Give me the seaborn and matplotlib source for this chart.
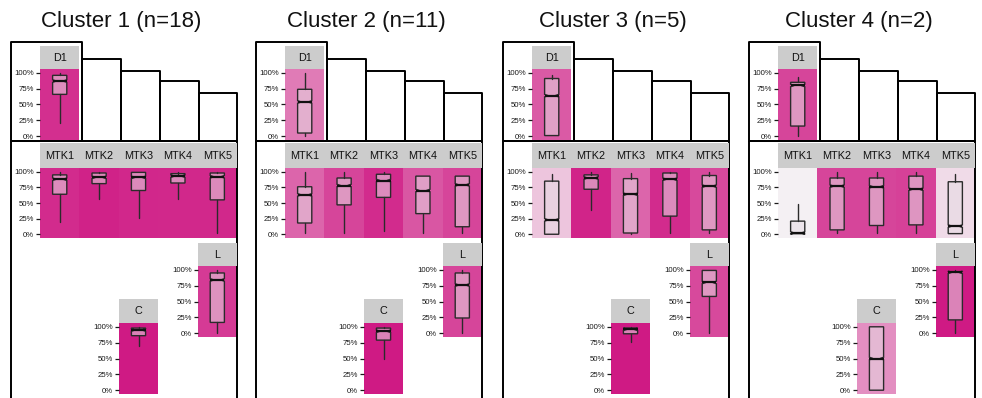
import matplotlib
matplotlib.use("Agg")
import matplotlib.pyplot as plt
from matplotlib.patches import Rectangle
import seaborn as sns

sns.set_theme(style="white")
plt.rcParams["font.family"] = ["Liberation Sans", "DejaVu Sans"]

# ---------------------------------------------------------------- data
cluster_titles = ["Cluster 1 (n=18)", "Cluster 2 (n=11)", "Cluster 3 (n=5)", "Cluster 4 (n=2)"]
panel_names = ["D1", "MTK1", "MTK2", "MTK3", "MTK4", "MTK5", "C", "L"]
tick_values = [0, 25, 50, 75, 100]
tick_labels = ["0%", "25%", "50%", "75%", "100%"]

# box statistics (percent), one row per cluster, panels ordered as panel_names
whisker_low = [
    [21, 20, 57, 26, 57, 2, 69, 0],
    [0, 2, 2, 5, 2, 2, 49, 0],
    [0, 0, 39, 1, 2, 2, 76, 0],
    [0, 0, 2, 2, 2, 0, 0, 0],
]
quart_1 = [
    [66, 64, 81, 70, 82, 55, 86, 17],
    [5, 18, 47, 59, 33, 12, 79, 24],
    [1, 0, 72, 2, 29, 7, 89, 58],
    [16, 1, 7, 14, 15, 1, 0, 21],
]
median = [
    [87, 88, 91, 91, 93, 92, 95, 84],
    [54, 63, 78, 86, 70, 79, 93, 76],
    [64, 23, 90, 64, 88, 77, 96, 80],
    [80, 2, 77, 76, 72, 13, 50, 96],
]
quart_3 = [
    [96, 95, 98, 99, 97, 98, 98, 95],
    [74, 76, 90, 96, 93, 93, 98, 95],
    [91, 85, 95, 89, 98, 94, 98, 99],
    [85, 21, 90, 90, 93, 84, 100, 97],
]
whisker_high = [
    [100, 100, 100, 100, 100, 100, 100, 100],
    [100, 100, 100, 100, 94, 93, 100, 100],
    [97, 97, 100, 98, 100, 100, 100, 100],
    [93, 49, 100, 100, 100, 97, 100, 99],
]
notch_half = 2  # half-height of the median notch, percent

# background shading of each panel (0 = pale, 1 = full magenta)
shade = [
    [0.90, 0.92, 0.96, 0.94, 0.93, 0.93, 1.00, 0.85],
    [0.55, 0.65, 0.80, 0.92, 0.72, 0.80, 1.00, 0.80],
    [0.70, 0.20, 0.95, 0.65, 0.92, 0.78, 1.00, 0.78],
    [0.80, 0.00, 0.80, 0.80, 0.82, 0.10, 0.45, 1.00],
]

# ---------------------------------------------------------------- layout (pixels)
W, H = 982, 398
cluster_left = [11, 256, 503, 749]
COL_X0, COL_W = 29, 39.4
FRAME_W = 226
# name: (first column, number of columns, header top, header bottom, panel bottom)
panel_boxes = {
    "D1": (0, 1, 46, 69, 140),
    "MTK": (0, 5, 143, 168, 238),
    "L": (4, 1, 243, 266, 337),
    "C": (2, 1, 299, 323, 394),
}
step_edges = [71, 110, 149, 188, 226]
step_tops = [59, 71, 81, 93]

cmap = sns.blend_palette(["#f4f0f3", "#cf1a84"], as_cmap=True)
box_face = (0.90, 0.86, 0.89, 0.55)
edge_col = "#2b2b2b"
BOX_W = 0.36

fig = plt.figure(figsize=(W / 100, H / 100), dpi=100)
fig.patch.set_facecolor("white")


def fig_rect(x, y, w, h):
    return [x / W, 1 - (y + h) / H, w / W, h / H]


overlay = fig.add_axes([0, 0, 1, 1], zorder=10)
overlay.set_xlim(0, W)
overlay.set_ylim(H, 0)
overlay.set_axis_off()
overlay.patch.set_visible(False)


def draw_boxes(ax, ci, idxs):
    stats = []
    for k in idxs:
        stats.append(dict(
            whislo=whisker_low[ci][k], q1=quart_1[ci][k], med=median[ci][k],
            q3=quart_3[ci][k], whishi=whisker_high[ci][k],
            cilo=median[ci][k] - notch_half, cihi=median[ci][k] + notch_half,
            fliers=[],
        ))
    pos = [i + 0.5 for i in range(len(idxs))]
    art = ax.bxp(
        stats, positions=pos, widths=BOX_W, shownotches=True, showcaps=False,
        showfliers=False, patch_artist=True, manage_ticks=False,
        boxprops=dict(facecolor=box_face, edgecolor=edge_col, linewidth=1.0),
        medianprops=dict(color="#111111", linewidth=1.6, solid_capstyle="butt"),
        whiskerprops=dict(color=edge_col, linewidth=1.0),
    )
    for p, line in zip(pos, art["medians"]):
        line.set_xdata([p - BOX_W / 2, p + BOX_W / 2])


for ci, left in enumerate(cluster_left):
    # title
    overlay.text(left + 110, 27.5, cluster_titles[ci], fontsize=16,
                 ha="center", va="baseline", color="#111111")

    # frame outlines
    frame_kw = dict(fill=False, edgecolor="black", linewidth=1.4, joinstyle="round")
    overlay.add_patch(Rectangle((left, 42), step_edges[0], 141 - 42, **frame_kw))
    for (x0, x1), top in zip(zip(step_edges[:-1], step_edges[1:]), step_tops):
        overlay.add_patch(Rectangle((left + x0, top), x1 - x0, 141 - top, **frame_kw))
    overlay.add_patch(Rectangle((left, 141), FRAME_W, 300, **frame_kw))

    for name, (c0, ncol, htop, hbot, pbot) in panel_boxes.items():
        x = left + COL_X0 + c0 * COL_W
        w = ncol * COL_W
        # grey header strip with labels
        overlay.add_patch(Rectangle((x, htop), w, hbot - htop,
                                    facecolor="#cccccc", edgecolor="none"))
        labels = panel_names[1:6] if name == "MTK" else [name]
        for i, lab in enumerate(labels):
            overlay.text(x + (i + 0.5) * COL_W, (htop + hbot) / 2 + 0.5, lab,
                         fontsize=7.8, ha="center", va="center", color="#111111")

        idxs = [panel_names.index(lab) for lab in labels]
        ax = fig.add_axes(fig_rect(x, hbot, w, pbot - hbot))
        ax.set_xlim(0, ncol)
        ax.set_ylim(-6, 106)
        for i, k in enumerate(idxs):
            ax.axvspan(i, i + 1, color=cmap(shade[ci][k]), lw=0, zorder=0)
        draw_boxes(ax, ci, idxs)
        ax.set_xticks([])
        ax.set_yticks(tick_values)
        ax.set_yticklabels(tick_labels)
        ax.tick_params(axis="y", length=3, width=0.9, labelsize=5.6, pad=1.2,
                       colors="#1a1a1a", left=True)
        for s in ax.spines.values():
            s.set_visible(False)

fig.savefig("out.png", dpi=100)
